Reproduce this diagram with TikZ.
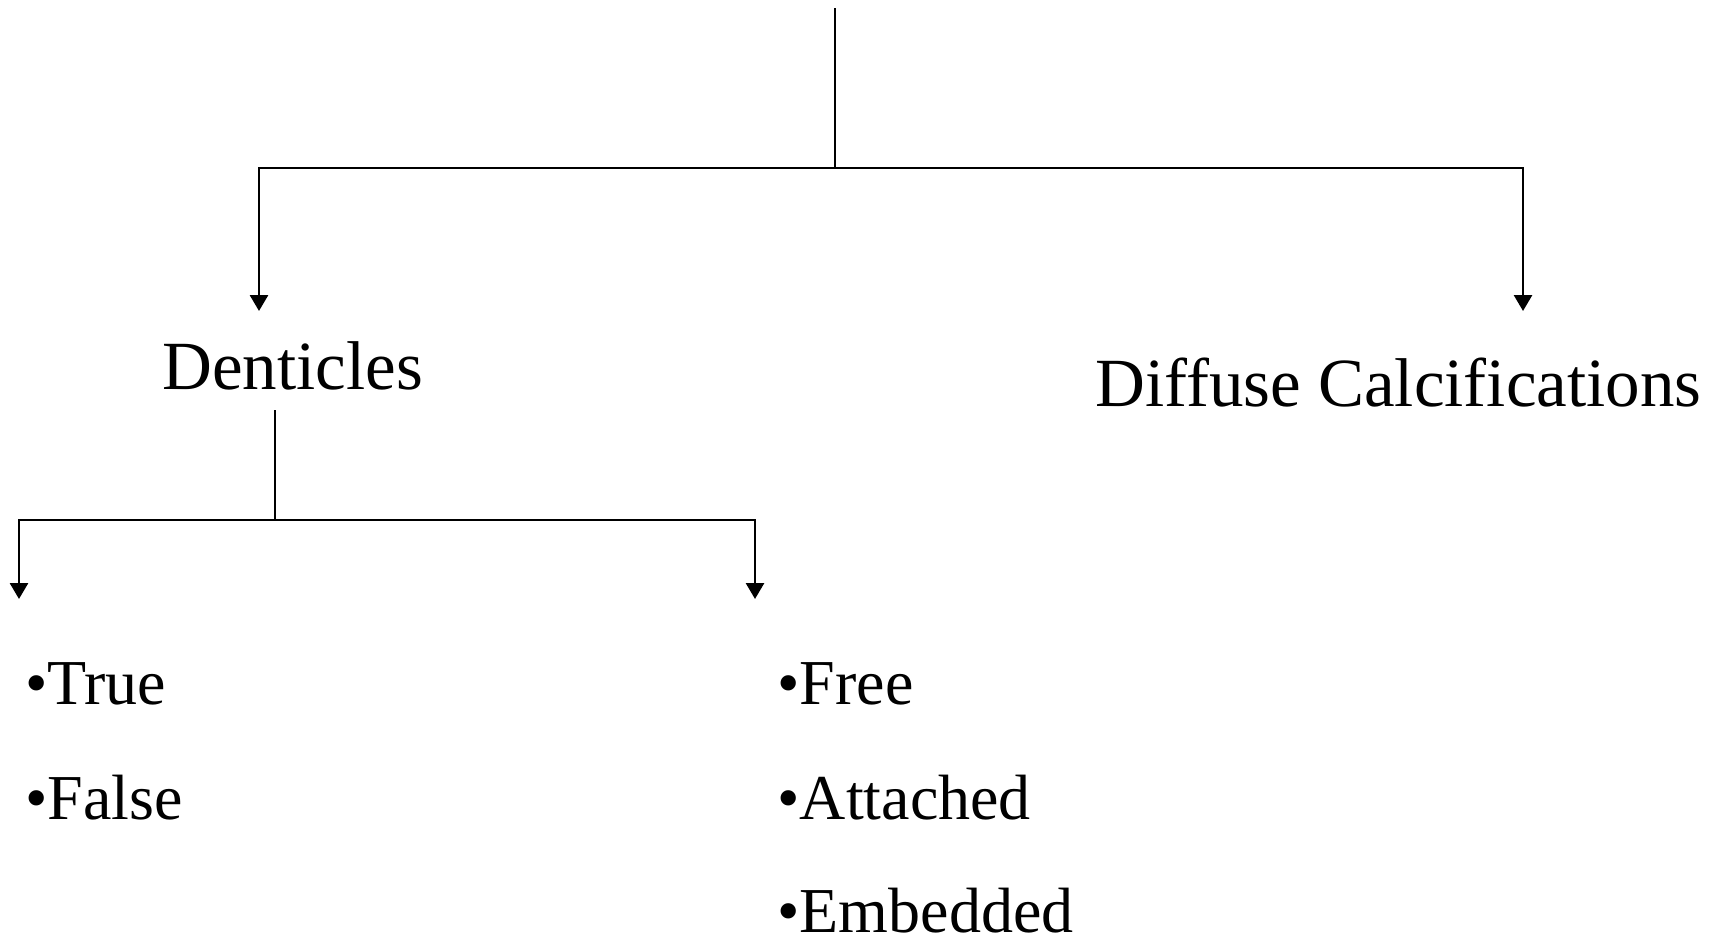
\documentclass[tikz,border=0pt]{standalone}
\usepackage{fontspec}
\setmainfont{Liberation Serif}
\usetikzlibrary{arrows.meta}

\begin{document}
\begin{tikzpicture}[
    x=0.5pt, y=-0.5pt,
    line width=1.4pt,
    heading/.style={anchor=base west,inner sep=0pt,font=\fontsize{34.5}{40}\selectfont},
    item/.style={anchor=base west,inner sep=0pt,font=\fontsize{32}{38}\selectfont},
    branch/.style={black},
    child/.style={branch,-{Triangle[width=9pt,length=8pt]}},
  ]
  \useasboundingbox (0,0) rectangle (1716,938);

  % Headings
  \node[heading] (denticles) at (161,389) {Denticles};
  \node[heading] (diffuse) at (1094,406) {Diffuse Calcifications};

  % Top split
  \coordinate (root) at (835,8);
  \coordinate (split) at (835,168);
  \coordinate (dentip) at (259,311);
  \coordinate (difftip) at (1523,311);
  \draw[branch] (root) -- (split);
  \draw[child] (split) -| (dentip);
  \draw[child] (split) -| (difftip);

  % Denticles split
  \coordinate (densplit) at (275,520);
  \coordinate (typetip) at (19,599);
  \coordinate (sitetip) at (755,599);
  \draw[branch,shorten <=9.5pt] (denticles.south -| densplit) -- (densplit);
  \draw[child] (densplit) -| (typetip);
  \draw[child] (densplit) -| (sitetip);

  % Bullet lists
  \foreach \name/\word/\y in {true/True/704, false/False/819}
    \node[item] (\name) at (24,\y) {\textbullet\word};
  \foreach \name/\word/\y in {free/Free/704, attached/Attached/819,
                              embedded/Embedded/932}
    \node[item] (\name) at (776,\y) {\textbullet\word};
\end{tikzpicture}
\end{document}
